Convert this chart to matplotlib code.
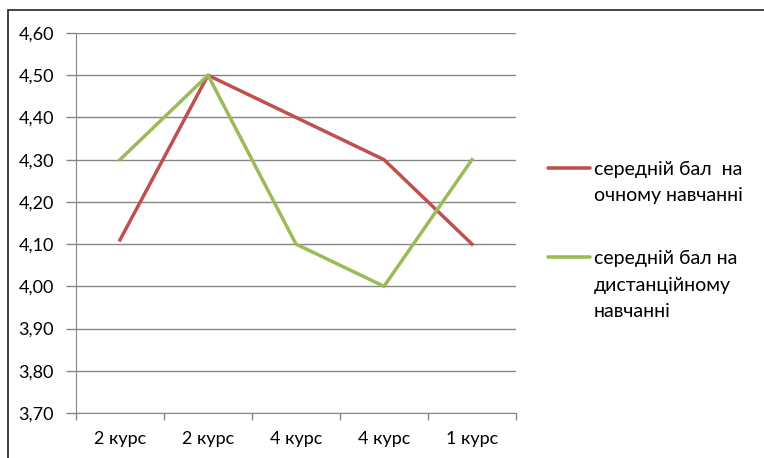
import numpy as np
import matplotlib.pyplot as plt
from matplotlib.patches import Rectangle
from matplotlib.lines import Line2D

# дані
kursy = ["2 курс", "2 курс", "4 курс", "4 курс", "1 курс"]
ochno = [4.11, 4.50, 4.40, 4.30, 4.10]
dystanc = [4.30, 4.50, 4.10, 4.00, 4.30]
y_ticks = [3.70, 3.80, 3.90, 4.00, 4.10, 4.20, 4.30, 4.40, 4.50, 4.60]
legenda = [["середній бал  на", "очному навчанні"],
           ["середній бал на", "дистанційному", "навчанні"]]

red = "#C0504D"
green = "#9BBB59"
grid_c = "#868686"

plt.rcParams['font.family'] = ['Lato', 'DejaVu Sans']
fs = 13

W, H = 764, 458
fig = plt.figure(figsize=(W / 100, H / 100), dpi=100)

# рамка навколо діаграми
fig.patches.append(Rectangle((8 / W, -0.1), 1.2, 1 - 10 / H + 0.1, transform=fig.transFigure,
                             fill=False, edgecolor="#222222", linewidth=1.2))

ax = fig.add_axes([76 / W, 1 - 413 / H, 440 / W, (413 - 33) / H])

x = np.arange(len(kursy))
ax.plot(x, ochno, color=red, linewidth=2.5, zorder=3)
ax.plot(x, dystanc, color=green, linewidth=2.5, zorder=3)

ax.set_xlim(-0.5, len(kursy) - 0.5)
ax.set_ylim(3.70, 4.60)
ax.set_yticks(y_ticks)
ax.set_yticklabels([f"{v:.2f}".replace(".", ",") for v in y_ticks], fontsize=fs)
ax.set_xticks(x)
ax.set_xticklabels(kursy, fontsize=fs)
ax.tick_params(axis="x", length=0, pad=13)
ax.set_xticks(np.arange(-0.5, len(kursy)), minor=True)
ax.tick_params(axis="x", which="minor", length=5, color=grid_c, width=1)
ax.tick_params(axis="y", length=7, color=grid_c, width=1, pad=9)

ax.grid(axis="y", color=grid_c, linewidth=1)
ax.set_axisbelow(True)
for s in ["top", "right"]:
    ax.spines[s].set_visible(False)
ax.spines["left"].set_color(grid_c)
ax.spines["bottom"].set_color(grid_c)

# легенда вручну (як в Excel: лінія навпроти першого рядка)
for (lines, col, y0) in zip(legenda, [red, green], [168, 257]):
    fig.add_artist(Line2D([548 / W, 590 / W], [1 - y0 / H, 1 - y0 / H], color=col,
                          linewidth=2.6, solid_capstyle="round", transform=fig.transFigure))
    for i, t in enumerate(lines):
        fig.text(594 / W, 1 - (y0 + 26.5 * i) / H, t, fontsize=14, va="center_baseline", ha="left")

fig.savefig("out.png", dpi=100)
